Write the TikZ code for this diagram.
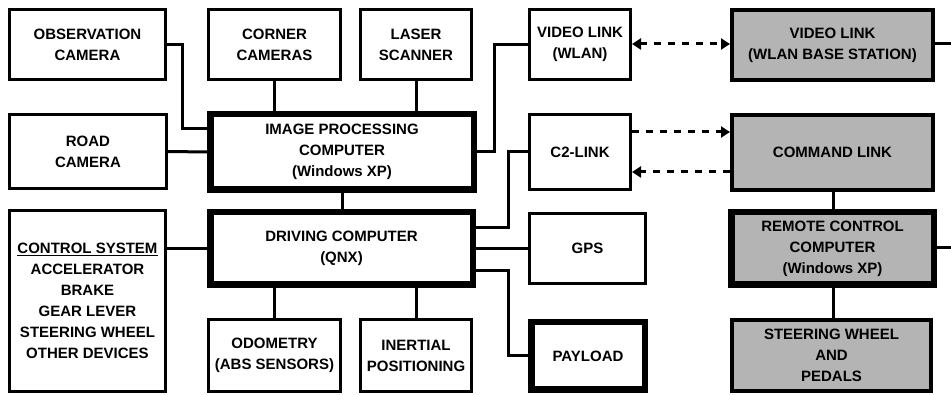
\documentclass[tikz,border=0pt]{standalone}
\usepackage{fontspec}
\setmainfont{Liberation Sans}
\usetikzlibrary{arrows.meta}
\definecolor{boxgray}{RGB}{180,180,180}

\begin{document}
\begin{tikzpicture}[x=1pt, y=-1pt,
    block/.style={draw=black, line width=3pt, fill=white, align=center, inner sep=0pt,
        font=\bfseries\fontsize{15}{21}\selectfont},
    thickblock/.style={block, line width=6.5pt},
    grayblock/.style={block, line width=4pt, fill=boxgray},
    remote/.style={thickblock, fill=boxgray},
    wire/.style={line width=3pt},
    radio/.style={line width=3pt, dash pattern=on 7pt off 7pt, >={Triangle[length=9pt, width=11pt]}}]
    \useasboundingbox (0, 0) rectangle (951, 395);

    \node[block, minimum width=156, minimum height=70] (obs-cam) at (87.5, 44.5) {OBSERVATION\\CAMERA};
    \node[block, minimum width=132, minimum height=70] (corner-cam) at (274.5, 44.5) {CORNER\\CAMERAS};
    \node[block, minimum width=111, minimum height=70] (laser) at (416, 44.5) {LASER\\SCANNER};
    \node[block, minimum width=101, minimum height=70] (video-link) at (580, 44.5) {VIDEO LINK\\(WLAN)};
    \node[grayblock, minimum width=201, minimum height=70] (video-base) at (832.5, 45) {VIDEO LINK\\(WLAN BASE STATION)};

    \node[block, minimum width=157, minimum height=74] (road-cam) at (88, 151.5) {ROAD\\CAMERA};
    \node[thickblock, minimum width=263.5, minimum height=75.5] (ipc) at (342, 152) {IMAGE PROCESSING\\COMPUTER\\(Windows XP)};
    \node[block, minimum width=101, minimum height=75] (c2-link) at (580, 152) {C2-LINK};
    \node[grayblock, minimum width=201, minimum height=75] (cmd-link) at (832.5, 152.5) {COMMAND LINK};

    \node[block, minimum width=156, minimum height=181] (control) at (87.5, 301) {\underline{CONTROL SYSTEM}\\ACCELERATOR\\BRAKE\\GEAR LEVER\\STEERING WHEEL\\OTHER DEVICES};
    \node[thickblock, minimum width=262.5, minimum height=72.5] (driving) at (341.5, 248.5) {DRIVING COMPUTER\\(QNX)};
    \node[block, minimum width=116, minimum height=70] (gps) at (587.5, 248.5) {GPS};
    \node[remote, minimum width=202.5, minimum height=72.5] (rcc) at (832.5, 248.5) {REMOTE CONTROL\\COMPUTER\\(Windows XP)};

    \node[block, minimum width=132, minimum height=72] (odometry) at (274.5, 355.5) {ODOMETRY\\(ABS SENSORS)};
    \node[block, minimum width=111, minimum height=72] (inertial) at (416, 355.5) {INERTIAL\\POSITIONING};
    \node[thickblock, minimum width=113.5, minimum height=67.5] (payload) at (588, 356) {PAYLOAD};
    \node[grayblock, minimum width=199, minimum height=71] (steering) at (831.5, 355.5) {STEERING WHEEL\\AND\\PEDALS};

    \coordinate (video-out) at (951, 44);
    \coordinate (rcc-out) at (951, 248);

    \draw[wire] (obs-cam.east) -- ++(15, 0) |- (ipc.west |- 0, 129);
    \draw[wire] (road-cam.east) -- (ipc.west);
    \draw[wire] (corner-cam.south) -- (corner-cam.south |- ipc.north);
    \draw[wire] (laser.south) -- (laser.south |- ipc.north);
    \draw[wire] (ipc.south) -- (ipc.south |- driving.north);
    \draw[wire] (control.east |- driving.west) -- (driving.west);
    \draw[wire] (odometry.north) -- (odometry.north |- driving.south);
    \draw[wire] (inertial.north) -- (inertial.north |- driving.south);

    \draw[wire] (ipc.east) -- ++(17, 0) |- (video-link.west);
    \draw[wire] (c2-link.west) -- ++(-20, 0) |- (driving.east |- 0, 228);
    \draw[wire] (gps.west) -- (driving.east |- gps.west);
    \draw[wire] (payload.west) -- ++(-20, 0) |- (driving.east |- 0, 271);

    \draw[radio, <->] (video-link.east |- 0, 44) -- (video-base.west |- 0, 44);
    \draw[radio, ->] (c2-link.east |- 0, 132) -- (cmd-link.west |- 0, 132);
    \draw[radio, ->] (cmd-link.west |- 0, 172) -- (c2-link.east |- 0, 172);

    \draw[wire] (cmd-link.south -| 833, 0) -- (rcc.north -| 833, 0);
    \draw[wire] (rcc.south -| 833, 0) -- (steering.north -| 833, 0);
    \draw[wire] (video-base.east |- video-out) -- (video-out);
    \draw[wire] (rcc.east |- rcc-out) -- (rcc-out);
\end{tikzpicture}
\end{document}
